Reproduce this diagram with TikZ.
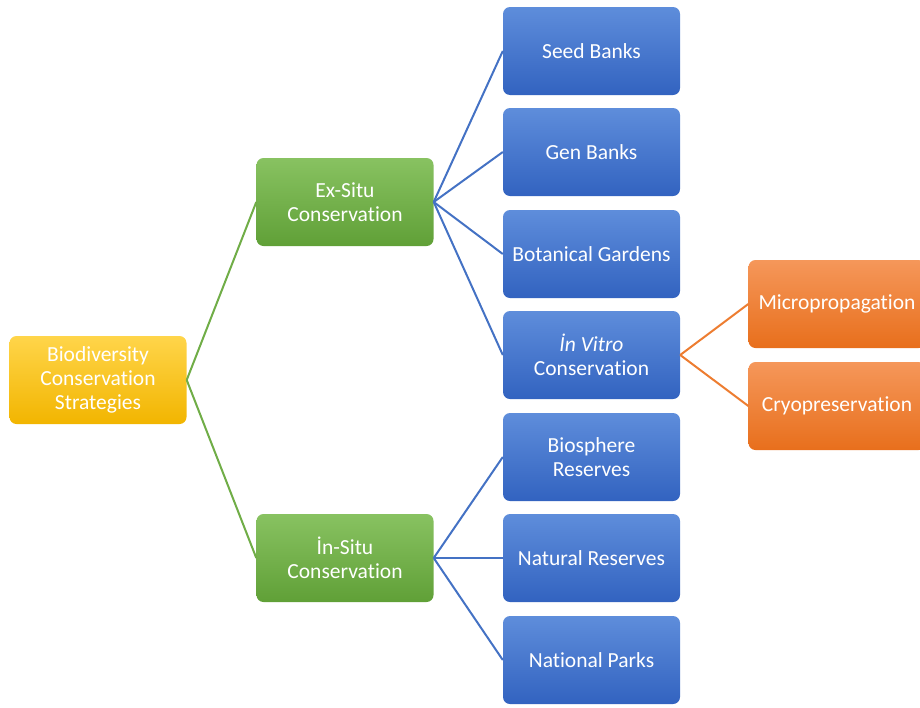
\documentclass[tikz,border=0pt]{standalone}
\usepackage{fontspec}
\setmainfont{Carlito}[Ligatures={NoCommon}]
\definecolor{ytop}{HTML}{FFD54A}\definecolor{ybot}{HTML}{F2B500}
\definecolor{gtop}{HTML}{88C261}\definecolor{gbot}{HTML}{60A037}
\definecolor{btop}{HTML}{5E8DDB}\definecolor{bbot}{HTML}{3263C0}
\definecolor{otop}{HTML}{F5975A}\definecolor{obot}{HTML}{E86F1C}
\definecolor{gline}{HTML}{70AD47}\definecolor{bline}{HTML}{4472C4}\definecolor{oline}{HTML}{ED7D31}
\tikzset{
  box/.style={rounded corners=7pt, minimum width=177pt, minimum height=88pt, inner sep=0pt,
    align=center, text=white, font=\fontsize{21.5}{24}\selectfont},
  ybox/.style={box, top color=ytop, bottom color=ybot},
  gbox/.style={box, top color=gtop, bottom color=gbot},
  bbox/.style={box, top color=btop, bottom color=bbot},
  obox/.style={box, top color=otop, bottom color=obot},
  gl/.style={draw=gline, line width=2pt},
  bl/.style={draw=bline, line width=2pt},
  ol/.style={draw=oline, line width=2pt},
}
\begin{document}
\begin{tikzpicture}[x=1pt,y=-1pt]
\useasboundingbox (0,0) rectangle (920,707);
\clip (0,0) rectangle (920,707);
\node[ybox] (root) at (98,380) {Biodiversity\\Conservation\\Strategies};
\node[gbox] (ex) at (345,202) {Ex-Situ\\Conservation};
\node[gbox] (in) at (345,558) {İn-Situ\\Conservation};
\node[bbox] (seed) at (591.5,51) {Seed Banks};
\node[bbox] (gen) at (591.5,152) {Gen Banks};
\node[bbox] (bot) at (591.5,254) {Botanical Gardens};
\node[bbox] (vit) at (591.5,355) {\textit{İn Vitro}\\Conservation};
\node[bbox] (bio) at (591.5,457) {Biosphere\\Reserves};
\node[bbox] (nat) at (591.5,558) {Natural Reserves};
\node[bbox] (par) at (591.5,660) {National Parks};
\node[obox] (mic) at (837,304) {Micropropagation};
\node[obox] (cry) at (837,406) {Cryopreservation};
\draw[gl] (root.east) -- (ex.west);
\draw[gl] (root.east) -- (in.west);
\foreach \c in {seed,gen,bot,vit} \draw[bl] (ex.east) -- (\c.west);
\foreach \c in {bio,nat,par} \draw[bl] (in.east) -- (\c.west);
\draw[ol] (vit.east) -- (mic.west);
\draw[ol] (vit.east) -- (cry.west);
\end{tikzpicture}
\end{document}
